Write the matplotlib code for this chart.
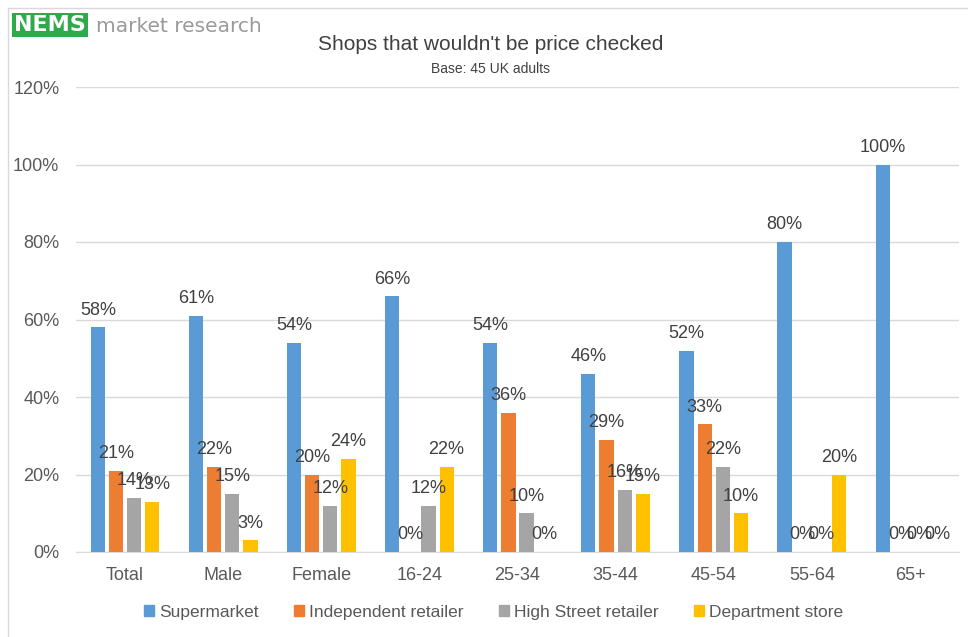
import numpy as np
import matplotlib.pyplot as plt
from matplotlib.lines import Line2D
from matplotlib.ticker import FuncFormatter

plt.rcParams['font.family'] = ['Liberation Sans Narrow', 'Liberation Sans', 'DejaVu Sans']

groups = ['Total', 'Male', 'Female', '16-24', '25-34', '35-44', '45-54', '55-64', '65+']
series = ['Supermarket', 'Independent retailer', 'High Street retailer', 'Department store']
supermarket = [58, 61, 54, 66, 54, 46, 52, 80, 100]
independent = [21, 22, 20, 0, 36, 29, 33, 0, 0]
high_street = [14, 15, 12, 12, 10, 16, 22, 0, 0]
department = [13, 3, 24, 22, 0, 15, 10, 20, 0]
colors = ['#5b9bd5', '#ed7d31', '#a5a5a5', '#ffc000']

fig = plt.figure(figsize=(9.68, 6.37), dpi=100)
ax = fig.add_axes([76 / 968, 1 - 552 / 637, (959 - 76) / 968, (552 - 87) / 637])

x = np.arange(len(groups))
pitch = 0.185
width = 0.145
for i, (vals, col) in enumerate(zip([supermarket, independent, high_street, department], colors)):
    pos = x + (i - 1.5) * pitch
    ax.bar(pos, vals, width, color=col, label=series[i], zorder=3)
    for px, v in zip(pos, vals):
        ax.text(px, v + 2.2, f'{v}%', ha='center', va='bottom', fontsize=13,
                color='#404040', zorder=4)

ax.set_xlim(-0.5, len(groups) - 0.5)
ax.set_ylim(0, 120)
ax.set_yticks(np.arange(0, 121, 20))
ax.yaxis.set_major_formatter(FuncFormatter(lambda v, _: f'{v:.0f}%'))
ax.set_xticks(x)
ax.set_xticklabels(groups)
ax.tick_params(axis='both', length=0, labelsize=13, labelcolor='#595959')
ax.tick_params(axis='x', pad=11)
ax.tick_params(axis='y', pad=12)
ax.grid(axis='y', color='#d9d9d9', linewidth=1, zorder=0)
for s in ['top', 'right', 'left']:
    ax.spines[s].set_visible(False)
ax.spines['bottom'].set_color('#d9d9d9')

fig.text(0.507, 1 - 45 / 637, "Shops that wouldn't be price checked", ha='center', va='center',
         fontsize=15, color='#404040')
fig.text(0.507, 1 - 69 / 637, 'Base: 45 UK adults', ha='center', va='center',
         fontsize=10, color='#404040')

# logo
fig.text(14 / 968, 1 - 25 / 637, 'NEMS', ha='left', va='center', fontsize=16, fontweight='heavy',
         color='white', family='DejaVu Sans',
         bbox=dict(boxstyle='square,pad=0.1', fc='#2eaa4a', ec='none'))
fig.text(96 / 968, 1 - 26 / 637, 'market research', ha='left', va='center', fontsize=14.5,
         color='#9a9a9a', family='DejaVu Sans')

# outer frame edges
fig.add_artist(Line2D([8 / 968, 1], [1 - 8 / 637] * 2, color='#d9d9d9', lw=1))
fig.add_artist(Line2D([8 / 968] * 2, [0, 1 - 8 / 637], color='#d9d9d9', lw=1))

handles = [plt.Rectangle((0, 0), 1, 1, color=c) for c in colors]
fig.legend(handles, series, loc='center', bbox_to_anchor=(0.51, 1 - 612 / 637), ncol=4,
           frameon=False, fontsize=12.5, handlelength=0.6, handleheight=0.6,
           handletextpad=0.3, columnspacing=2.0, labelcolor='#595959')

fig.savefig('out.png', dpi=100)
